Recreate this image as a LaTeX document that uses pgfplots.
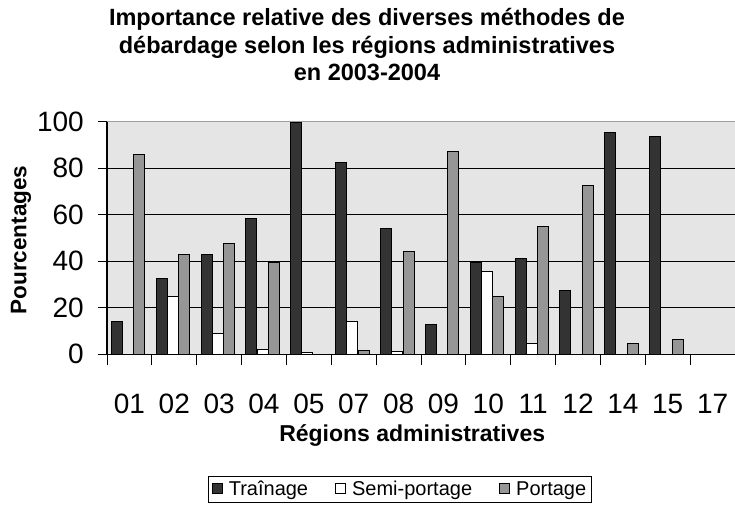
\documentclass[border=0pt]{standalone}
\usepackage{pgfplots}
\pgfplotsset{compat=1.18}
\usepackage{fontspec}
\setmainfont{Liberation Sans}
\definecolor{darkbar}{RGB}{51,51,51}
\definecolor{graybar}{RGB}{150,150,150}
\definecolor{bgc}{RGB}{229,229,229}
\begin{document}
\begin{tikzpicture}
\useasboundingbox (0,0) rectangle (735pt,508pt);
\begin{axis}[
  at={(107pt,153.7pt)}, anchor=south west,
  scale only axis, width=628pt, height=232.6pt,
  xmin=-0.5, xmax=13.5, ymin=0, ymax=100,
  axis x line*=bottom, axis y line*=left,
  axis line style={black, line width=1.1pt},
  axis background/.style={fill=bgc},
  xtick={0,...,13},
  xticklabels={01,02,03,04,05,07,08,09,10,11,12,14,15,17},
  minor xtick={-0.5,0.5,...,13.5},
  ytick={0,20,...,80},
  extra y ticks={100},
  extra y tick style={major grid style={color=gray!75, line width=1.6pt}},
  ymajorgrids, major grid style={black, line width=0.8pt},
  tick align=outside, major tick length=9pt, minor tick length=11pt,
  tick style={black, line width=0.9pt},
  every major x tick/.append style={draw=none},
  /pgf/number format/assume math mode=true,
  yticklabel style={font=\fontsize{28}{32}\selectfont, anchor=east, inner sep=0pt, xshift=-14pt},
  xticklabel style={font=\fontsize{28}{32}\selectfont, anchor=base, inner sep=0pt, yshift=-50pt},
  xlabel={Régions administratives},
  xlabel style={at={(axis description cs:0.486,-0.347)}, anchor=center, font=\bfseries\fontsize{23}{27}\selectfont},
  ylabel={Pourcentages},
  ylabel style={at={(axis description cs:-0.137,0.491)}, anchor=center, font=\bfseries\fontsize{22.5}{27}\selectfont},
  title={Importance relative des diverses méthodes de\\débardage selon les régions administratives\\en 2003-2004},
  title style={at={(axis description cs:0.414,1.306)}, anchor=center, align=center, font=\bfseries\fontsize{23.5}{27.5}\selectfont},
  legend style={at={(axis description cs:0.4666,-0.579)}, anchor=center, legend columns=3, draw=black, line width=0.8pt,
    font=\fontsize{20}{24}\selectfont, inner sep=3pt,
    /tikz/every odd column/.append style={column sep=4pt},
    /tikz/every even column/.append style={column sep=25pt}},
  legend image code/.code={\draw[#1, draw=black, line width=1pt] (0pt,-5pt) rectangle (10pt,5pt);},
]
\addplot[ybar, bar width=0.245, bar shift=-0.279, fill=darkbar, draw=black, line width=1pt]
  coordinates {(0,14) (1,32.4) (2,42.7) (3,58.2) (4,99.5) (5,82.5) (6,53.9) (7,12.6) (8,39.4) (9,41.1) (10,27.3) (11,95.3) (12,93.5)};
\addplot[ybar, bar width=0.245, bar shift=-0.033, fill=white, draw=black, line width=1pt]
  coordinates {(1,24.8) (2,9.0) (3,2.1) (4,0.7) (5,14.0) (6,1.4) (8,35.5) (9,4.7)};
\addplot[ybar, bar width=0.245, bar shift=0.223, fill=graybar, draw=black, line width=1pt]
  coordinates {(0,85.7) (1,42.7) (2,47.7) (3,39.4) (5,1.8) (6,44.4) (7,87.4) (8,24.8) (9,54.9) (10,72.5) (11,4.7) (12,6.4)};
\legend{Traînage, Semi-portage, Portage}
\end{axis}
\end{tikzpicture}
\end{document}
